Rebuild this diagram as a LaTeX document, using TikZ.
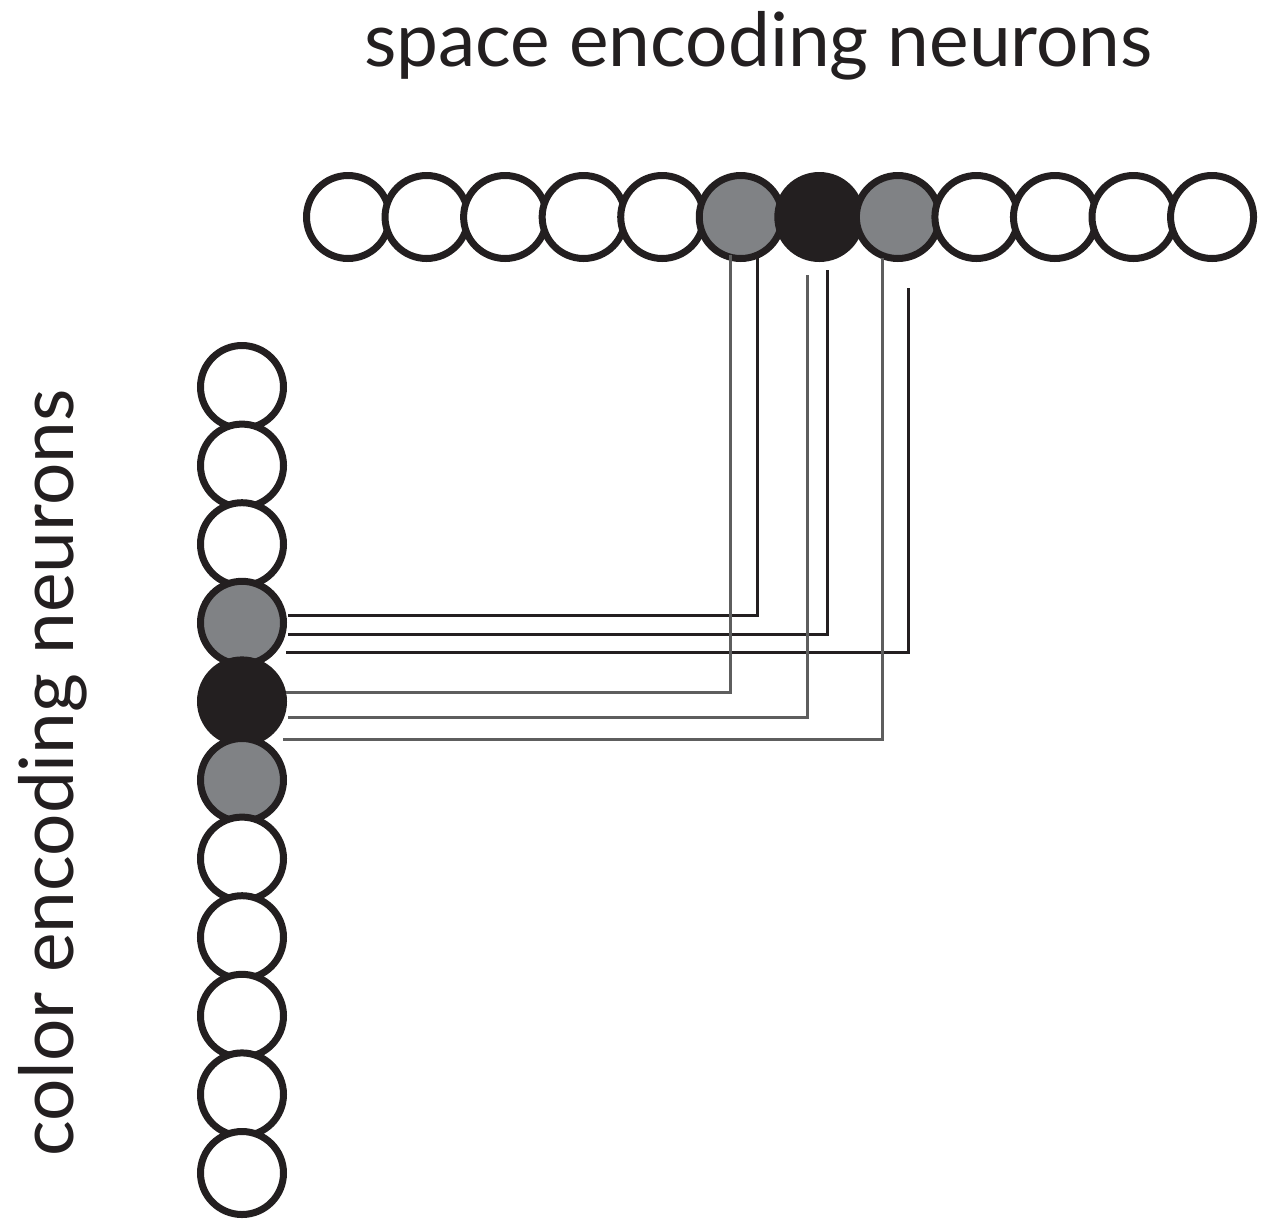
\documentclass[tikz,border=0pt]{standalone}
\usepackage{fontspec}
\setmainfont{Lato}
\definecolor{ink}{HTML}{231F20}
\definecolor{midgray}{HTML}{808285}
\definecolor{wiregray}{HTML}{5E5E5E}
\tikzset{
  neuron/.style={circle, draw=ink, line width=7pt, minimum size=83pt, inner sep=0pt, fill=white},
  halfon/.style={neuron, fill=midgray},
  fullon/.style={neuron, fill=ink},
  darkwire/.style={draw=ink, line width=3pt},
  greywire/.style={draw=wiregray, line width=3pt},
  label/.style={font=\fontsize{74.8}{80}\selectfont, text=ink, inner sep=0pt, anchor=base}
}
\begin{document}
\begin{tikzpicture}[x=1pt, y=-1pt]
\useasboundingbox (0,0) rectangle (1279,1219);

% titles
\node[label] (spacelabel) at (758.5,66) {space encoding neurons};
\node[label, rotate=90] (colorlabel) at (73,773) {color encoding neurons};

% space encoding row
\foreach \i in {0,...,11} {
  \pgfmathsetmacro{\xx}{348+78.55*\i}
  \ifnum\i=5 \def\st{halfon}\else
  \ifnum\i=6 \def\st{fullon}\else
  \ifnum\i=7 \def\st{halfon}\else \def\st{neuron}\fi\fi\fi
  \node[\st] (s\i) at (\xx,217) {};
}

% color encoding column
\foreach \j in {0,...,10} {
  \pgfmathsetmacro{\yy}{387+78.6*\j}
  \ifnum\j=3 \def\st{halfon}\else
  \ifnum\j=4 \def\st{fullon}\else
  \ifnum\j=5 \def\st{halfon}\else \def\st{neuron}\fi\fi\fi
  \node[\st] (c\j) at (242,\yy) {};
}

% wire end points
\coordinate (a1) at (288,615);  \coordinate (b1) at (757,252);
\coordinate (a2) at (288,634);  \coordinate (b2) at (827,270);
\coordinate (a3) at (286,652);  \coordinate (b3) at (908,288);
\coordinate (a4) at (286,692);  \coordinate (b4) at (730,255);
\coordinate (a5) at (288,717);  \coordinate (b5) at (807,275);
\coordinate (a6) at (283,739);  \coordinate (b6) at (882,258);

% connections between the two populations
\draw[darkwire] (a1) -| (b1);
\draw[darkwire] (a2) -| (b2);
\draw[darkwire] (a3) -| (b3);
\draw[greywire] (a4) -| (b4);
\draw[greywire] (a5) -| (b5);
\draw[greywire] (a6) -| (b6);
\end{tikzpicture}
\end{document}
